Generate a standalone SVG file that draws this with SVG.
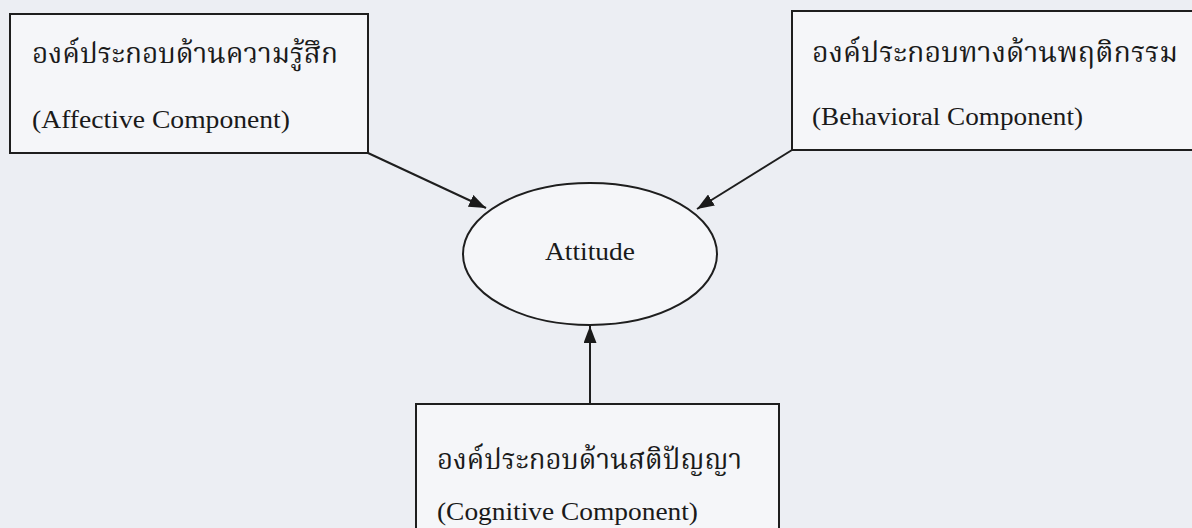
<svg xmlns="http://www.w3.org/2000/svg" width="1192" height="528" viewBox="0 0 1192 528">
<defs>
<marker id="arr" viewBox="0 0 17 13" refX="17" refY="6.5" markerWidth="17" markerHeight="13" markerUnits="userSpaceOnUse" orient="auto">
<path d="M0,0 L17,6.5 L0,13 Z" fill="#1a1a1a"/>
</marker>
<style>
.box{fill:#f5f6f9;stroke:#1e1e1e;stroke-width:2}
.th{font-family:"Liberation Serif","Noto Serif Thai","Noto Sans Thai",serif;font-size:29px;fill:#1a1a1a}
.en{font-family:"Liberation Serif",serif;font-size:26px;fill:#1a1a1a}
.con{stroke:#1e1e1e;stroke-width:2;fill:none;marker-end:url(#arr)}
</style>
</defs>
<rect width="1192" height="528" fill="#eceef3"/>
<g id="affective">
<rect class="box" x="10" y="14" width="358" height="139"/>
<text class="th" x="32" y="63" textLength="306" lengthAdjust="spacingAndGlyphs">องค์ประกอบด้านความรู้สึก</text>
<text class="en" x="32" y="128" textLength="258" lengthAdjust="spacingAndGlyphs">(Affective Component)</text>
</g>
<g id="behavioral">
<rect class="box" x="792" y="11" width="410" height="139"/>
<text class="th" x="812" y="62" textLength="366" lengthAdjust="spacingAndGlyphs">องค์ประกอบทางด้านพฤติกรรม</text>
<text class="en" x="812" y="125" textLength="271" lengthAdjust="spacingAndGlyphs">(Behavioral Component)</text>
</g>
<g id="attitude">
<ellipse cx="590" cy="254" rx="127" ry="71" fill="#f5f6f9" stroke="#1e1e1e" stroke-width="2"/>
<text class="en" x="545" y="260" textLength="90" lengthAdjust="spacingAndGlyphs">Attitude</text>
</g>
<g id="cognitive">
<rect class="box" x="416" y="404" width="363" height="140"/>
<text class="th" x="437" y="469" textLength="305" lengthAdjust="spacingAndGlyphs">องค์ประกอบด้านสติปัญญา</text>
<text class="en" x="437" y="520" textLength="261" lengthAdjust="spacingAndGlyphs">(Cognitive Component)</text>
</g>
<g id="connectors">
<line class="con" x1="368" y1="153" x2="486" y2="208"/>
<line class="con" x1="792" y1="150" x2="697" y2="209"/>
<line class="con" x1="590" y1="404" x2="590" y2="326"/>
</g>
</svg>
